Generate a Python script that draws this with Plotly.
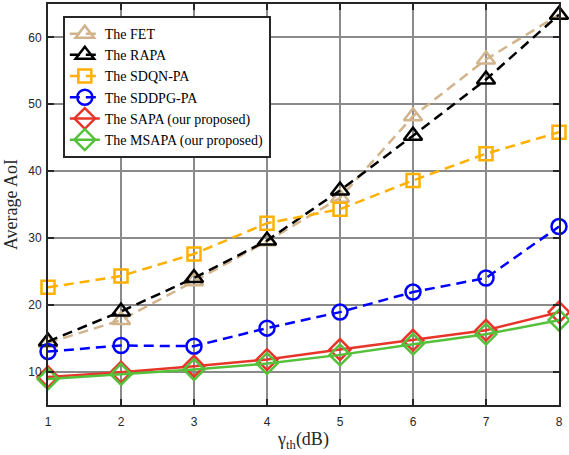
import plotly.graph_objects as go

x_vals = [1, 2, 3, 4, 5, 6, 7, 8]
fet = [14.3, 17.7, 23.5, 29.5, 36.0, 48.2, 56.7, 63.4]
rapa = [14.5, 19.0, 24.0, 29.6, 37.1, 45.3, 53.7, 63.4]
sdqn = [22.6, 24.3, 27.6, 32.2, 34.3, 38.6, 42.6, 45.8]
sddpg = [13.0, 13.9, 13.8, 16.5, 18.9, 21.9, 24.0, 31.7]
sapa = [9.2, 9.9, 10.8, 11.8, 13.3, 14.7, 16.2, 18.9]
msapa = [8.9, 9.6, 10.3, 11.2, 12.5, 14.1, 15.6, 17.7]

series = [
    ("The FET", fet, "#D2B48C", "10px,6px", "triangle-up-open", 16),
    ("The RAPA", rapa, "#000000", "10px,6px", "triangle-up-open", 16),
    ("The SDQN-PA", sdqn, "#FFB000", "10px,6px", "square-open", 13),
    ("The SDDPG-PA", sddpg, "#0000FF", "10px,6px", "circle-open", 15),
    ("The SAPA (our proposed)", sapa, "#E8352A", "solid", "diamond-open", 16),
    ("The MSAPA (our proposed)", msapa, "#55C03A", "solid", "diamond-open", 16),
]

fig = go.Figure()
for name, ys, color, dash, sym, size in series:
    fig.add_trace(go.Scatter(
        x=x_vals, y=ys, name=name, mode="lines+markers",
        line=dict(color=color, width=2.5, dash=dash),
        marker=dict(symbol=sym, size=size, color=color, line=dict(width=2.5, color=color)),
        cliponaxis=False,
    ))

axis_common = dict(
    showgrid=True, gridcolor="#8a8a8a", gridwidth=1.5,
    showline=True, linecolor="#262626", linewidth=2, mirror="allticks",
    ticks="inside", ticklen=6, tickwidth=1.5, tickcolor="#262626",
    zeroline=False,
    tickfont=dict(family="Liberation Sans, Arial", size=12, color="#262626"),
)

fig.update_layout(
    width=569, height=455,
    margin=dict(l=48, r=10, t=2, b=50),
    paper_bgcolor="white", plot_bgcolor="white",
    xaxis=dict(range=[1, 8], tickvals=x_vals, ticklabelstandoff=5, **axis_common,
               title=dict(text="γ<sub>th</sub>(dB)", standoff=4,
                          font=dict(family="Liberation Serif, Times New Roman", size=18, color="#262626"))),
    yaxis=dict(range=[5, 65], tickvals=[10, 20, 30, 40, 50, 60], ticklabelstandoff=2, **axis_common,
               title=dict(text="Average AoI", standoff=6,
                          font=dict(family="Liberation Serif, Times New Roman", size=18, color="#262626"))),
    legend=dict(
        x=0.029, y=0.97, xanchor="left", yanchor="top",
        bgcolor="white", bordercolor="#262626", borderwidth=2,
        font=dict(family="Liberation Serif, Times New Roman", size=14, color="#000000"),
        tracegroupgap=0, itemwidth=30,
    ),
    showlegend=True,
)

fig.write_html("out.html", config={"displayModeBar": False},
               post_script="document.body.style.margin='0px';document.body.style.padding='0px';")
